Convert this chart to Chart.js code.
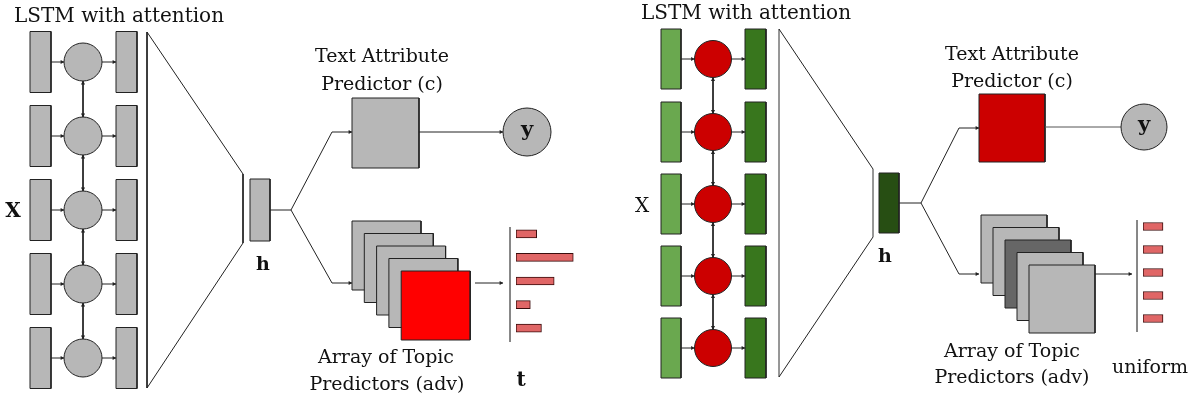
<!DOCTYPE html>
<html>
<head>
<meta charset="utf-8">
<script src="https://cdn.jsdelivr.net/npm/chart.js@4/dist/chart.umd.min.js"></script>
<style>
  html, body { margin: 0; padding: 0; background: #fff; overflow: hidden; }
  #wrap { position: relative; width: 1201px; height: 401px; }
  canvas { position: absolute; }
</style>
</head>
<body>
<div id="wrap">
  <canvas id="diagram" width="1201" height="401" style="left:0;top:0"></canvas>
  <canvas id="advBars" width="70" height="118" style="left:516px;top:222px"></canvas>
  <canvas id="uniBars" width="40" height="115" style="left:1143px;top:215px"></canvas>
</div>
<script>
// topic distributions shown next to the predictor stacks
const topicLabels = ["topic 1", "topic 2", "topic 3", "topic 4", "topic 5"];
const advDist = [0.13, 0.36, 0.24, 0.09, 0.16];
const uniformDist = [0.2, 0.2, 0.2, 0.2, 0.2];

// text of the two panels
const titleText = "LSTM with attention";
const predictorText = ["Text Attribute", "Predictor (c)"];
const stackText = ["Array of Topic", "Predictors (adv)"];
const leftDistName = "t";
const rightDistName = "uniform";

const SERIF = '"DejaVu Serif", "Liberation Serif", serif';
const DARK = "#222";

// ---- layout of the diagram (pixel space of the main chart) ----
const left = {
  rows: [62, 136, 210, 284, 358], rowH: 61,
  inX: [30, 51], cx: 83, r: 19, outX: [116, 137],
  inFill: "#b7b7b7", cellFill: "#b7b7b7", outFill: "#b7b7b7",
  funnel: [[147, 32], [243, 174], [243, 243], [147, 388]], funnelSide: DARK,
  h: [250, 179, 270, 241], hFill: "#b7b7b7",
  split: [270, 291, 210], up: [332, 132], down: [332, 283], boxL: 352,
  box: [352, 98, 419, 168], boxFill: "#b7b7b7",
  yc: [527, 132, 24], yArrow: true,
  stack: [352, 221, 69, 69, 12.3, 12.5], stackFills: ["#b7b7b7", "#b7b7b7", "#b7b7b7", "#b7b7b7", "#ff0000"],
  outArrow: [475, 503, 283], axis: [510, 227, 342]
};
const right = {
  rows: [59, 132, 204, 276, 348], rowH: 60,
  inX: [661, 681], cx: 713, r: 18.5, outX: [745, 766],
  inFill: "#6aa84f", cellFill: "#cc0000", outFill: "#38761d",
  funnel: [[779, 29], [873, 169], [873, 237], [779, 377]], funnelSide: "#888",
  h: [879, 173, 899, 233], hFill: "#274e13",
  split: [899, 921, 203], up: [959, 128], down: [959, 274], boxL: 979,
  box: [979, 94, 1045, 162], boxFill: "#cc0000",
  yc: [1144, 127, 23], yArrow: false,
  stack: [981, 215, 66, 68, 12, 12.5], stackFills: ["#b7b7b7", "#b7b7b7", "#666666", "#b7b7b7", "#b7b7b7"],
  outArrow: [1095, 1132, 274], axis: [1137, 220, 332]
};

const labels = [
  { t: titleText, x: 119, y: 17, f: "20px" },
  { t: "X", x: 13, y: 212, f: "bold 20px" },
  { t: "h", x: 263, y: 265, f: "bold 19px" },
  { t: predictorText[0], x: 382, y: 57, f: "19px" },
  { t: predictorText[1], x: 382, y: 85, f: "19px" },
  { t: "y", x: 527, y: 131, f: "bold 21px" },
  { t: stackText[0], x: 386, y: 358, f: "19px" },
  { t: stackText[1], x: 387, y: 385, f: "19px" },
  { t: leftDistName, x: 521, y: 381, f: "bold 20px" },
  { t: titleText, x: 746, y: 14, f: "20px" },
  { t: "X", x: 642, y: 207, f: "20px" },
  { t: "h", x: 885, y: 257, f: "bold 19px" },
  { t: predictorText[0], x: 1012, y: 55, f: "19px" },
  { t: predictorText[1], x: 1012, y: 82, f: "19px" },
  { t: "y", x: 1144, y: 126, f: "bold 21px" },
  { t: stackText[0], x: 1012, y: 352, f: "19px" },
  { t: stackText[1], x: 1012, y: 378, f: "19px" },
  { t: rightDistName, x: 1150, y: 368, f: "19px" }
];

const datasets = [];
function rect(x0, y0, x1, y1, fill, stroke) {
  datasets.push({
    data: [{x: x0, y: y0}, {x: x1, y: y0}, {x: x1, y: y1}, {x: x0, y: y1}, {x: x0, y: y0}],
    backgroundColor: fill, borderColor: stroke || DARK, borderWidth: 1, fill: "shape", pointRadius: 0
  });
}
function path(pts, stroke, width) {
  datasets.push({
    data: pts.map(p => ({x: p[0], y: p[1]})),
    borderColor: stroke || DARK, borderWidth: width || 1, fill: false, pointRadius: 0
  });
}
function dot(x, y, r, fill) {
  datasets.push({
    data: [{x: x, y: y}], showLine: false, pointStyle: "circle", pointRadius: r,
    pointBackgroundColor: fill, pointBorderColor: DARK, pointBorderWidth: 1
  });
}
function head(x, y, ux, uy) {
  const ang = Math.atan2(ux, -uy) * 180 / Math.PI;
  datasets.push({
    data: [{x: x - ux * 2.2, y: y - uy * 2.2}], showLine: false, pointStyle: "triangle",
    pointRadius: 2.4, pointRotation: ang, pointBackgroundColor: DARK, pointBorderColor: DARK, pointBorderWidth: 0
  });
}
function arrow(x0, y0, x1, y1, both) {
  path([[x0, y0], [x1, y1]]);
  const d = Math.hypot(x1 - x0, y1 - y0), ux = (x1 - x0) / d, uy = (y1 - y0) / d;
  head(x1, y1, ux, uy);
  if (both) head(x0, y0, -ux, -uy);
}

function addPanel(p) {
  const hh = p.rowH / 2;
  p.rows.forEach((cy, i) => {
    rect(p.inX[0], cy - hh, p.inX[1], cy + hh, p.inFill);
    rect(p.outX[0], cy - hh, p.outX[1], cy + hh, p.outFill);
    arrow(p.inX[1], cy, p.cx - p.r, cy);
    arrow(p.cx + p.r, cy, p.outX[0], cy);
    if (i < p.rows.length - 1) arrow(p.cx, cy + p.r, p.cx, p.rows[i + 1] - p.r, true);
  });
  p.rows.forEach(cy => dot(p.cx, cy, p.r, p.cellFill));
  const f = p.funnel;
  path([f[0], f[3]], p.funnelSide);
  path([f[1], f[2]], p.funnelSide);
  path([f[0], f[1]]);
  path([f[2], f[3]]);
  rect(p.h[0], p.h[1], p.h[2], p.h[3], p.hFill);
  path([[p.split[0], p.split[2]], [p.split[1], p.split[2]]]);
  path([[p.split[1], p.split[2]], p.up]);
  path([[p.split[1], p.split[2]], p.down]);
  arrow(p.up[0], p.up[1], p.boxL, p.up[1]);
  arrow(p.down[0], p.down[1], p.boxL, p.down[1]);
  rect(p.box[0], p.box[1], p.box[2], p.box[3], p.boxFill);
  if (p.yArrow) arrow(p.box[2], p.yc[1], p.yc[0] - p.yc[2], p.yc[1]);
  else path([[p.box[2], p.yc[1]], [p.yc[0] - p.yc[2], p.yc[1]]], "#555");
  dot(p.yc[0], p.yc[1], p.yc[2], "#b7b7b7");
  const s = p.stack;
  p.stackFills.forEach((c, i) => {
    const x0 = s[0] + i * s[4], y0 = s[1] + i * s[5];
    rect(x0, y0, x0 + s[2], y0 + s[3], c);
  });
  arrow(p.outArrow[0], p.outArrow[2], p.outArrow[1], p.outArrow[2]);
  path([[p.axis[0], p.axis[1]], [p.axis[0], p.axis[2]]], "#777");
}
addPanel(left);
addPanel(right);
datasets.forEach((d, i) => { d.order = -i; d.tension = 0; d.borderJoinStyle = "miter"; d.clip = false; });

const textPlugin = {
  id: "diagramText",
  afterDraw(chart) {
    const ctx = chart.ctx, sx = chart.scales.x, sy = chart.scales.y;
    ctx.save();
    ctx.fillStyle = "#111";
    ctx.textAlign = "center";
    ctx.textBaseline = "middle";
    labels.forEach(l => {
      ctx.font = l.f + " " + SERIF;
      ctx.fillText(l.t, sx.getPixelForValue(l.x), sy.getPixelForValue(l.y));
    });
    ctx.restore();
  }
};

new Chart(document.getElementById("diagram"), {
  type: "line",
  data: { datasets: datasets },
  options: {
    responsive: false, animation: false, devicePixelRatio: 1,
    layout: { padding: 0, autoPadding: false },
    scales: {
      x: { type: "linear", min: 0, max: 1201, display: false },
      y: { type: "linear", min: 0, max: 401, reverse: true, display: false }
    },
    plugins: { legend: { display: false }, tooltip: { enabled: false } }
  },
  plugins: [textPlugin]
});

function miniBars(id, values, max, thickness) {
  new Chart(document.getElementById(id), {
    type: "bar",
    data: {
      labels: topicLabels,
      datasets: [{
        data: values, backgroundColor: "#e06666", borderColor: "#3a0d0d",
        borderWidth: 1, borderSkipped: false, barThickness: thickness
      }]
    },
    options: {
      indexAxis: "y", responsive: false, animation: false, devicePixelRatio: 1,
      layout: { padding: 0, autoPadding: false },
      scales: {
        x: { min: 0, max: max, display: false },
        y: { display: false }
      },
      plugins: { legend: { display: false }, tooltip: { enabled: false } }
    }
  });
}
miniBars("advBars", advDist, 0.44, 8);
miniBars("uniBars", uniformDist, 0.4, 8);
</script>
</body>
</html>
